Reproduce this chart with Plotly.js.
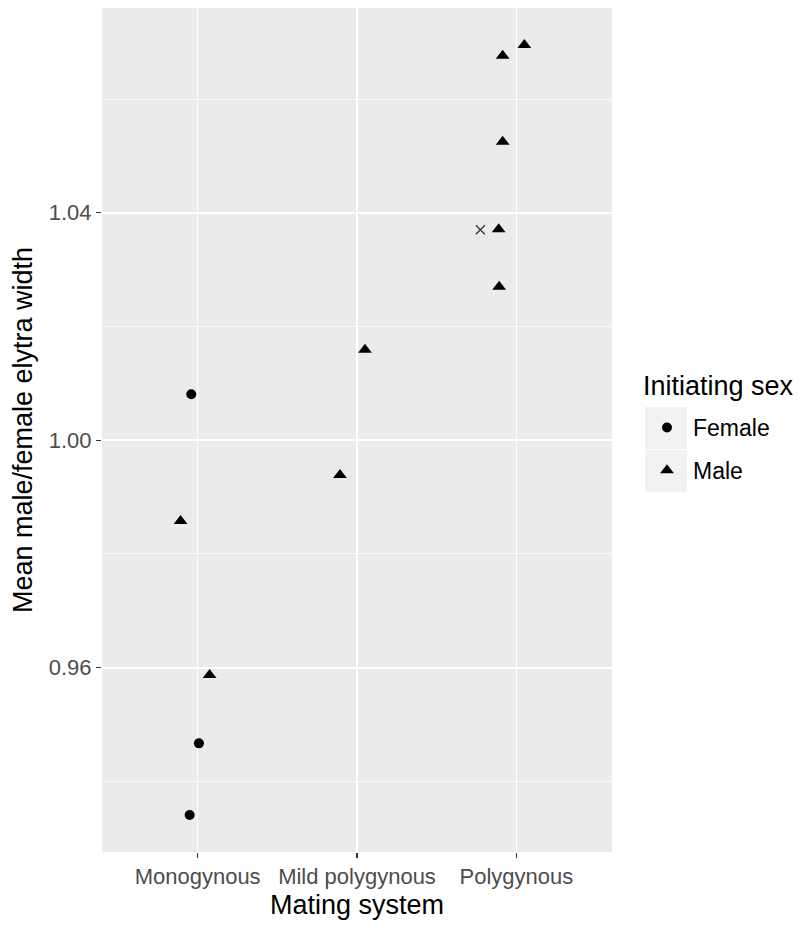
<!DOCTYPE html>
<html>
<head>
<meta charset="utf-8">
<script src="https://cdn.plot.ly/plotly-3.0.1.min.js"></script>
<style>html,body{margin:0;padding:0;background:#fff;}#chart{width:799px;height:928px;}</style>
</head>
<body>
<div id="chart"></div>
<script>
// Categories on the x axis
const categories = ["Monogynous", "Mild polygynous", "Polygynous"];

// Female-initiated points
const femaleCategory = ["Monogynous", "Monogynous", "Monogynous"];
const femaleJitter = [-0.040, 0.008, -0.050];
const femaleValues = [1.0081, 0.9467, 0.9341];

// Male-initiated points
const maleCategory = ["Monogynous", "Monogynous", "Mild polygynous", "Mild polygynous",
  "Polygynous", "Polygynous", "Polygynous", "Polygynous", "Polygynous"];
const maleJitter = [-0.107, 0.075, -0.107, 0.050, -0.086, 0.050, -0.086, -0.111, -0.108];
const maleValues = [0.9858, 0.9587, 0.9939, 1.0159, 1.0676, 1.0695, 1.0525, 1.0371, 1.0270];

// Unlabelled point (cross)
const otherCategory = ["Polygynous"];
const otherJitter = [-0.226];
const otherValues = [1.0370];

const yTickVals = [0.96, 1.00, 1.04];
const yTickText = ["0.96", "1.00", "1.04"];

function xs(cats, jit) { return cats.map((c, i) => categories.indexOf(c) + jit[i]); }

const FONT = "Liberation Sans, Arial, sans-serif";

const traces = [
  {
    type: "scatter", mode: "markers", name: "Female", legendgroup: "f",
    x: xs(femaleCategory, femaleJitter), y: femaleValues,
    marker: {symbol: "circle", size: 10, color: "#000000"}
  },
  {
    type: "scatter", mode: "markers", name: "Male", legendgroup: "m",
    x: xs(maleCategory, maleJitter), y: maleValues,
    marker: {symbol: "triangle-up", size: 12, color: "#000000"}
  },
  {
    type: "scatter", mode: "markers", name: "other", showlegend: false,
    x: xs(otherCategory, otherJitter), y: otherValues,
    marker: {symbol: "x-thin-open", size: 9, color: "#333333", line: {width: 1.3, color: "#333333"}}
  }
];

const W = 510, H = 844;
function px2paperX(p) { return (p - 102) / W; }
function px2paperY(p) { return (852 - p) / H; }

const layout = {
  width: 799, height: 928,
  margin: {l: 102, r: 187, t: 8, b: 76, autoexpand: false},
  paper_bgcolor: "#ffffff",
  plot_bgcolor: "#EBEBEB",
  font: {family: FONT, color: "#000000"},
  showlegend: true,
  xaxis: {
    range: [-0.6, 2.6],
    tickvals: [0, 1, 2], ticktext: categories,
    showgrid: true, gridcolor: "#ffffff", gridwidth: 1.6,
    zeroline: false, showline: false,
    ticks: "outside", ticklen: 5, tickwidth: 1.3, tickcolor: "#333333",
    tickfont: {family: FONT, size: 22, color: "#4D4D4D"},
    title: {text: "Mating system", font: {family: FONT, size: 27, color: "#000000"}, standoff: 6}
  },
  yaxis: {
    range: [0.9276, 1.0760],
    tickvals: yTickVals, ticktext: yTickText,
    showgrid: true, gridcolor: "#ffffff", gridwidth: 1.6,
    minor: {tickvals: [0.94, 0.98, 1.02, 1.06], showgrid: true, gridcolor: "#ffffff", gridwidth: 0.8, ticks: ""},
    zeroline: false, showline: false,
    ticks: "outside", ticklen: 5, tickwidth: 1.3, tickcolor: "#333333",
    tickfont: {family: FONT, size: 22, color: "#4D4D4D"},
    title: {text: "Mean male/female elytra width", font: {family: FONT, size: 27, color: "#000000"}, standoff: 8}
  },
  legend: {
    x: px2paperX(641), y: px2paperY(406), xanchor: "left", yanchor: "top",
    bgcolor: "rgba(0,0,0,0)", borderwidth: 0,
    font: {family: FONT, size: 23, color: "#000000"},
    tracegroupgap: 10,
    itemwidth: 42,
    itemsizing: "trace"
  },
  annotations: [
    {text: "Initiating sex", xref: "paper", yref: "paper", x: px2paperX(641), y: px2paperY(386),
     xanchor: "left", yanchor: "middle", showarrow: false,
     font: {family: FONT, size: 27, color: "#000000"}}
  ],
  shapes: [
    {type: "rect", xref: "paper", yref: "paper", layer: "below",
     x0: px2paperX(645), x1: px2paperX(687), y0: px2paperY(449), y1: px2paperY(407),
     fillcolor: "#F2F2F2", line: {width: 0}},
    {type: "rect", xref: "paper", yref: "paper", layer: "below",
     x0: px2paperX(645), x1: px2paperX(687), y0: px2paperY(492), y1: px2paperY(450),
     fillcolor: "#F2F2F2", line: {width: 0}}
  ]
};

Plotly.newPlot("chart", traces, layout, {displayModeBar: false, staticPlot: true});
</script>
</body>
</html>
